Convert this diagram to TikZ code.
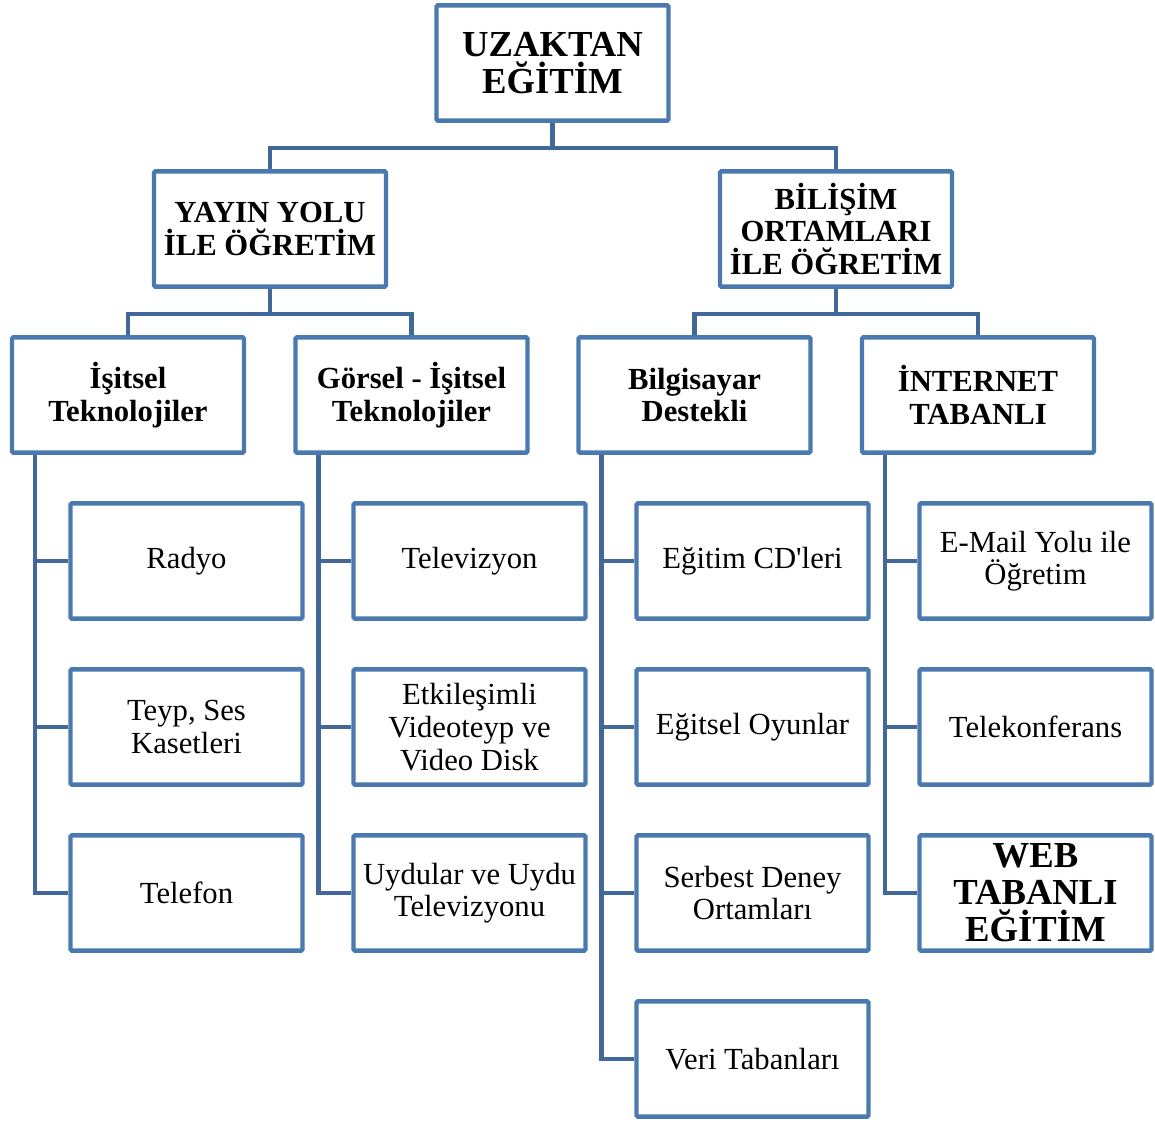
\documentclass[tikz,border=0pt]{standalone}
\usepackage{fontspec}
\setmainfont{Liberation Serif}
\newfontfamily\plainserif{Liberation Serif}
\definecolor{boxblue}{RGB}{74,121,176}
\definecolor{lineblue}{RGB}{66,104,154}
\begin{document}
\begin{tikzpicture}[x=0.75pt,y=-0.75pt,
  box/.style={draw=boxblue,line width=3.3pt,fill=white,minimum width=174pt,minimum height=86.5pt,
    inner sep=0pt,align=center,rounded corners=1pt},
  leaf/.style={box,font=\fontsize{23}{24.5}\selectfont},
  head/.style={box,font=\fontsize{23}{24.3}\selectfont\bfseries},
  big/.style={box,font=\fontsize{27.5}{27.75}\selectfont\bfseries},
  conn/.style={draw=lineblue,line width=3.3pt}]
\useasboundingbox (0,0) rectangle (1155,1122);

\node[big] (root) at (552.5,63) {UZAKTAN\\EĞİTİM};
\node[head] (yayin) at (270,229) {YAYIN YOLU\\İLE ÖĞRETİM};
\node[head] (bilisim) at (836,229) {BİLİŞİM\\ORTAMLARI\\İLE ÖĞRETİM};

\node[head] (isitsel) at (128,395) {İşitsel\\Teknolojiler};
\node[head] (gorsel) at (411.5,395) {Görsel - İşitsel\\Teknolojiler};
\node[head] (bilgi) at (694.5,395) {Bilgisayar\\Destekli};
\node[head] (internet) at (978,395) {İNTERNET\\TABANLI};

\node[leaf] (radyo) at (186.5,561) {\raisebox{-1.5pt}{Radyo}};
\node[leaf] (teyp) at (186.5,727) {Teyp, Ses\\Kasetleri};
\node[leaf] (telefon) at (186.5,893) {\raisebox{-1.5pt}{Telefon}};

\node[leaf] (tv) at (469.5,561) {\raisebox{-1.5pt}{Televizyon}};
\node[leaf] (etk) at (469.5,727) {Etkileşimli\\Videoteyp ve\\Video Disk};
\node[leaf] (uydu) at (469.5,893) {Uydular ve Uydu\\Televizyonu};

\node[leaf] (cd) at (752.5,561) {\raisebox{-1.5pt}{Eğitim CD{\plainserif '}leri}};
\node[leaf] (oyun) at (752.5,727) {\raisebox{-1.5pt}{Eğitsel Oyunlar}};
\node[leaf] (deney) at (752.5,893) {Serbest Deney\\Ortamları};
\node[leaf] (veri) at (752.5,1059) {\raisebox{-1.5pt}{Veri Tabanları}};

\node[leaf] (mail) at (1035.5,561) {E-Mail Yolu ile\\Öğretim};
\node[leaf] (tele) at (1035.5,727) {\raisebox{-1.5pt}{Telekonferans}};
\node[big] (web) at (1035.5,893) {WEB\\TABANLI\\EĞİTİM};

\draw[conn] (root.south) -- ++(0,25) -| (yayin.north);
\draw[conn] (root.south) -- ++(0,25) -| (bilisim.north);
\draw[conn] (yayin.south) -- ++(0,25) -| (isitsel.north);
\draw[conn] (yayin.south) -- ++(0,25) -| (gorsel.north);
\draw[conn] (bilisim.south) -- ++(0,25) -| (bilgi.north);
\draw[conn] (bilisim.south) -- ++(0,25) -| (internet.north);

\foreach \p/\c in {isitsel/radyo,isitsel/teyp,isitsel/telefon,
                   gorsel/tv,gorsel/etk,gorsel/uydu,
                   bilgi/cd,bilgi/oyun,bilgi/deney,bilgi/veri,
                   internet/mail,internet/tele,internet/web}
  \draw[conn] ([xshift=18.75pt]\p.south west) |- (\c.west);
\end{tikzpicture}
\end{document}
